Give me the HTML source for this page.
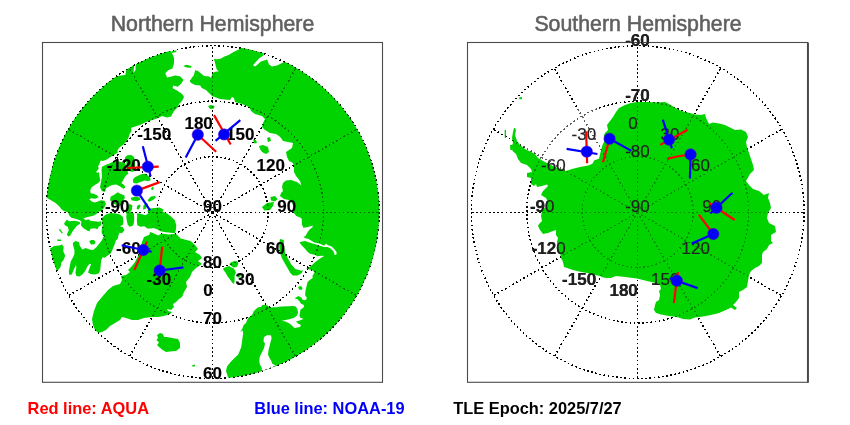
<!DOCTYPE html>
<html><head><meta charset="utf-8"><title>Polar maps</title>
<style>
html,body{margin:0;padding:0;background:#fff;}
body{width:850px;height:425px;overflow:hidden;position:relative;font-family:"Liberation Sans",sans-serif;}
svg{position:absolute;left:0;top:0;will-change:transform;opacity:0.999;}
.t{font-family:"Liberation Sans",sans-serif;}
</style></head><body>
<svg width="850" height="425" viewBox="0 0 850 425">
<defs>
<clipPath id="cn"><circle cx="212.7" cy="212.1" r="166.70000000000002"/></clipPath>
<clipPath id="cs"><circle cx="637.7" cy="212.1" r="166.70000000000002"/></clipPath>
<g id="gn" fill="none" stroke="#000" stroke-width="1.5" stroke-dasharray="1.7 2.5" shape-rendering="crispEdges"><circle cx="212.7" cy="212.1" r="55.47"/><circle cx="212.7" cy="212.1" r="110.93"/><circle cx="212.7" cy="212.1" r="166.40"/><path d="M212.5,212.5L212.50,378.90"/><path d="M212.5,212.5L295.70,356.61"/><path d="M212.5,212.5L356.61,295.70"/><path d="M212.5,212.5L378.90,212.50"/><path d="M212.5,212.5L356.61,129.30"/><path d="M212.5,212.5L295.70,68.39"/><path d="M212.5,212.5L212.50,46.10"/><path d="M212.5,212.5L129.30,68.39"/><path d="M212.5,212.5L68.39,129.30"/><path d="M212.5,212.5L46.10,212.50"/><path d="M212.5,212.5L68.39,295.70"/><path d="M212.5,212.5L129.30,356.61"/></g>
<g id="gs" fill="none" stroke="#000" stroke-width="1.5" stroke-dasharray="1.7 2.5" shape-rendering="crispEdges"><circle cx="637.7" cy="212.1" r="55.47"/><circle cx="637.7" cy="212.1" r="110.93"/><circle cx="637.7" cy="212.1" r="166.40"/><path d="M637.5,212.5L637.50,378.90"/><path d="M637.5,212.5L720.70,356.61"/><path d="M637.5,212.5L781.61,295.70"/><path d="M637.5,212.5L803.90,212.50"/><path d="M637.5,212.5L781.61,129.30"/><path d="M637.5,212.5L720.70,68.39"/><path d="M637.5,212.5L637.50,46.10"/><path d="M637.5,212.5L554.30,68.39"/><path d="M637.5,212.5L493.39,129.30"/><path d="M637.5,212.5L471.10,212.50"/><path d="M637.5,212.5L493.39,295.70"/><path d="M637.5,212.5L554.30,356.61"/></g>
</defs>
<rect x="0" y="0" width="850" height="425" fill="#fff"/>
<use href="#gn"/><use href="#gs"/>
<g class="t" font-size="17" font-weight="bold" fill="#151515" stroke="#151515" stroke-width="0.15"><text x="637.5" y="212.4" text-anchor="middle">-90</text><text x="637.5" y="156.9" text-anchor="middle">-80</text><text x="637.5" y="101.3" text-anchor="middle">-70</text><text x="637.5" y="45.8" text-anchor="middle">-60</text><text x="596.1" y="284.5" text-anchor="end">-150</text><text x="565.7" y="254.0" text-anchor="end">-120</text><text x="554.5" y="212.4" text-anchor="end">-90</text><text x="637.8" y="129.1" text-anchor="end">0</text><text x="679.4" y="140.3" text-anchor="end">30</text><text x="709.9" y="170.8" text-anchor="end">60</text><text x="721.1" y="212.4" text-anchor="end">90</text><text x="709.9" y="254.0" text-anchor="end">120</text><text x="679.4" y="284.5" text-anchor="end">150</text><text x="637.8" y="295.7" text-anchor="end">180</text></g>
<path d="M515,127L530,119L560,111L590,107L614,111L607,140L601,158L590,166L566,172L543,162L531,153L517,142Z" fill="#fff" opacity="0.55"/>
<g clip-path="url(#cn)" fill="#00d300" stroke="none"><path d="M171.0,40.0 170.6,51.5 171.2,51.8 172.9,55.0 174.1,57.9 173.9,63.8 172.4,68.5 168.2,70.3 165.3,73.2 167.1,77.4 170.6,76.8 175.3,75.6 180.0,76.2 183.5,79.7 181.2,83.8 177.6,86.8 173.5,85.6 172.4,87.9 176.5,90.3 181.2,93.2 182.9,95.0 184.0,97.0 182.0,101.0 179.0,104.0 178.0,107.0 174.0,111.0 171.0,116.4 167.0,117.6 162.0,116.0 157.0,118.4 151.0,120.4 146.0,122.0 140.0,125.0 133.6,127.1 131.0,128.1 131.6,131.1 129.5,134.2 128.5,137.7 126.0,141.8 124.0,144.3 120.4,146.8 118.4,148.8 117.4,150.4 117.9,152.4 115.4,153.9 111.3,156.4 106.8,159.5 102.7,161.0 100.7,160.6 99.7,163.2 98.2,166.2 98.7,168.7 96.2,171.8 97.5,173.0 98.8,172.0 99.8,178.0 100.3,180.6 98.3,183.1 95.2,184.7 91.7,187.2 90.2,190.2 90.7,193.3 93.7,193.8 96.8,195.3 98.8,197.3 95.2,198.8 91.2,198.3 89.2,199.3 91.7,201.4 94.7,202.4 97.8,201.4 101.3,200.3 104.4,200.8 106.0,204.0 104.0,208.0 101.2,211.1 97.6,212.1 96.6,214.1 92.6,216.1 87.5,217.1 83.5,218.2 85.5,220.2 88.5,219.2 90.5,220.7 94.6,221.2 98.6,221.7 101.2,221.2 101.2,225.2 98.6,226.8 97.6,229.3 94.6,228.3 90.5,228.8 89.5,231.3 87.5,230.8 83.5,228.3 80.9,225.2 81.4,221.7 79.9,220.2 75.4,218.7 71.3,217.7 68.8,215.1 68.3,212.6 64.0,211.0 61.7,209.6 59.2,206.3 55.2,202.8 50.1,199.7 46.6,197.7 30.0,197.0 20.0,197.0 20.0,90.0 100.0,80.0 112.0,72.0 114.1,77.4 118.8,75.8 125.3,75.0 126.5,69.0 127.0,62.0 133.8,60.0 134.2,65.0 133.5,73.0 135.5,70.0 135.8,62.0 150.0,40.0Z M184.0,65.5 187.0,64.8 191.6,66.2 191.0,67.8 187.0,67.5 184.5,66.8Z M171.5,51.3 176.5,50.2 176.3,52.0 172.0,53.0Z M240.7,44.0 240.7,47.8 238.7,49.6 233.6,52.1 228.6,55.1 224.5,56.6 220.5,58.7 216.4,59.2 213.9,58.7 214.9,62.2 215.9,66.8 216.9,69.8 218.9,71.3 215.4,71.8 212.9,72.8 212.2,74.4 211.0,78.0 209.4,76.4 204.3,75.9 201.3,73.8 197.7,70.8 195.2,70.3 193.7,75.4 192.1,77.4 189.6,80.9 191.1,83.0 195.2,85.0 200.2,85.5 201.8,88.0 206.0,90.0 212.0,96.0 220.0,99.0 230.0,100.0 232.0,97.0 234.0,98.0 235.0,102.0 242.0,104.0 249.0,107.0 251.0,111.0 255.0,114.0 262.0,116.0 265.0,119.0 263.0,123.0 262.0,127.0 265.0,130.0 270.0,133.0 276.0,134.0 279.0,136.0 281.0,138.0 283.0,141.0 288.0,142.0 293.0,143.0 292.0,148.0 289.0,150.0 286.0,152.0 287.0,157.0 289.0,161.0 293.0,163.0 294.0,167.0 294.0,172.0 296.0,176.0 300.0,181.0 301.4,185.4 297.0,182.0 291.0,180.0 286.0,180.6 283.0,183.0 282.0,187.0 283.0,191.0 281.0,193.0 280.0,196.0 284.0,199.0 289.0,200.0 291.0,202.0 294.0,206.0 294.0,212.0 293.2,212.0 296.2,216.0 300.2,217.6 301.8,219.1 301.8,224.1 303.3,227.7 306.8,227.2 310.4,226.2 312.9,225.7 312.4,227.2 309.9,229.2 307.8,231.7 306.8,233.8 305.3,236.3 303.3,236.8 305.3,238.3 308.3,238.8 311.4,240.8 314.4,242.4 319.5,243.4 322.5,244.9 324.5,245.4 326.0,243.4 327.6,244.9 331.6,246.4 334.7,249.4 336.7,252.5 336.2,255.0 334.7,255.0 333.6,251.5 330.6,248.4 327.6,246.9 324.5,246.9 320.5,245.9 316.4,244.4 312.4,243.4 309.4,242.4 305.3,241.1 302.3,241.6 299.5,242.3 301.4,245.1 304.5,248.2 307.5,251.7 310.0,253.7 314.6,254.7 317.6,256.3 321.7,255.7 324.2,255.9 319.7,258.8 315.6,261.8 312.6,264.4 309.5,266.9 306.0,268.4 309.5,269.4 312.6,270.4 314.6,272.4 312.6,275.5 312.6,278.0 309.7,280.0 307.6,282.0 306.6,286.0 305.6,290.1 305.1,295.2 306.6,297.2 306.6,299.2 304.6,300.2 302.6,299.7 301.6,297.7 298.5,296.0 294.5,298.2 297.5,299.2 299.5,301.3 301.0,303.8 303.6,304.8 304.1,306.8 302.6,308.3 300.5,309.4 300.0,312.4 299.5,315.4 300.0,317.4 303.6,319.0 299.5,320.5 296.0,321.5 298.0,323.5 301.0,325.0 300.0,327.0 294.4,328.0 292.0,325.5 289.5,323.5 285.4,321.5 281.8,320.7 285.4,320.0 290.4,319.0 294.5,317.4 297.0,315.4 298.0,312.4 297.5,309.4 296.0,306.8 293.5,306.1 288.4,306.3 281.3,306.5 276.8,307.3 273.7,307.3 269.2,307.8 268.2,305.8 265.0,304.8 262.0,305.3 261.0,307.1 258.0,307.3 255.0,309.9 254.0,311.0 252.0,315.0 248.0,318.0 246.0,323.0 243.7,325.0 242.2,329.0 240.2,332.0 242.7,330.5 243.2,333.0 242.2,340.2 241.2,347.3 238.2,354.4 235.1,357.4 231.0,361.4 227.0,366.5 226.0,371.0 228.0,377.0 231.0,381.0 231.0,395.0 400.0,395.0 400.0,20.0 286.0,20.0 285.6,60.0 283.0,62.4 277.0,65.6 272.0,66.4 269.0,64.4 267.2,59.6 261.0,61.6 255.2,66.4 253.0,65.2 259.0,58.4 263.6,55.2 264.0,50.0 241.0,38.0Z M208.0,106.0 211.0,105.0 214.5,106.0 214.0,108.5 210.0,109.0Z M259.0,146.0 263.0,145.0 268.0,147.0 269.0,152.0 266.0,154.0 262.0,152.0 260.0,149.0Z M253.0,139.4 256.0,140.0 257.0,143.0 254.4,143.4Z M267.0,138.0 270.0,137.0 271.0,141.0 268.0,142.0Z M270.4,197.0 275.0,196.0 277.6,199.0 275.0,201.4 271.0,200.6Z M262.0,207.0 267.0,203.0 274.0,202.0 273.0,206.0 270.0,210.0 264.4,210.6Z M280.2,239.0 283.7,240.1 284.2,247.1 285.2,253.2 287.8,258.3 291.3,264.4 295.4,268.9 300.4,270.4 303.0,270.4 301.4,273.5 297.4,275.5 292.8,275.5 290.3,273.0 287.8,268.4 284.7,263.3 281.7,257.8 279.7,252.2 279.2,245.1 279.7,240.1Z M298.0,287.0 301.0,286.0 302.6,288.0 301.5,290.0 299.0,289.5Z M229.3,264.1 231.2,262.2 234.5,261.1 237.8,261.5 238.2,264.1 236.8,266.9 233.5,267.4 231.2,266.0Z M223.2,268.3 226.0,266.9 229.3,266.0 231.2,267.4 233.5,268.3 234.9,270.2 235.9,272.6 234.6,275.4 234.6,281.0 234.0,283.9 232.1,282.5 229.8,279.2 227.4,275.9 225.1,272.1 223.6,270.2Z M236.8,274.9 239.2,274.0 241.0,274.9 240.1,277.3 237.8,277.8Z M157.0,335.0 160.0,333.0 163.0,334.0 164.0,337.0 167.0,337.0 172.0,338.0 178.0,339.0 180.0,343.0 180.0,348.0 176.0,351.0 170.0,351.4 166.0,352.0 162.0,349.4 159.0,347.0 157.0,345.0 159.0,342.6 156.4,340.0 158.0,338.0Z M192.0,365.5 195.0,364.6 195.0,366.2 192.5,366.8Z M102.0,297.0 108.0,290.0 113.0,286.0 120.0,284.0 122.0,280.0 121.0,276.0 126.0,275.0 130.0,272.0 128.0,270.0 132.0,266.0 135.0,262.0 138.0,256.0 140.0,250.0 142.0,242.0 144.0,237.0 149.0,235.0 150.5,232.0 153.5,233.2 158.2,235.6 161.8,233.4 168.8,234.4 175.9,233.8 180.6,238.5 187.6,240.3 191.0,241.3 195.0,245.0 198.0,249.0 195.0,252.0 200.0,255.0 202.0,258.0 198.0,261.0 202.0,264.0 196.0,268.0 192.0,272.0 190.0,277.0 186.0,282.0 187.0,287.0 184.0,292.0 182.0,297.0 179.0,299.0 176.0,302.0 173.0,304.0 174.0,307.0 171.0,310.0 167.0,309.0 168.0,311.0 172.0,312.0 170.0,314.0 164.0,316.0 158.0,317.0 151.0,317.0 144.0,318.0 138.0,320.0 132.0,320.0 126.0,318.0 122.0,317.0 120.0,320.0 115.0,323.0 110.0,326.0 106.0,330.0 102.0,332.0 98.0,333.0 95.0,330.0 93.0,325.0 92.0,319.0 94.0,311.0 97.0,303.0Z M136.8,213.2 140.4,213.7 145.4,215.2 148.5,213.2 147.4,210.1 150.5,208.6 154.5,208.1 159.6,207.6 163.6,209.6 162.6,211.7 166.7,213.2 170.7,216.2 174.8,220.3 176.3,225.3 175.8,230.4 174.8,233.2 170.7,232.7 165.7,232.2 160.6,231.2 157.6,229.4 153.5,227.9 150.5,228.4 147.4,228.4 144.4,226.3 140.4,226.8 137.3,225.3 136.8,220.3 137.3,216.2Z M127.2,213.2 130.2,212.2 133.8,213.2 134.3,218.2 133.8,223.3 132.8,225.8 129.7,226.8 127.7,224.8 126.7,220.3 126.2,216.2Z M102.0,166.7 106.0,164.7 110.1,163.2 113.2,161.6 117.2,161.1 125.3,163.2 127.3,170.2 128.3,173.8 125.3,176.3 124.3,178.0 122.8,181.0 121.3,183.0 124.3,185.0 125.3,187.7 123.3,188.7 120.2,186.6 116.2,184.6 112.1,185.1 109.1,186.6 106.1,188.2 105.1,191.7 102.0,191.2 100.0,187.0 101.0,182.0 102.0,176.0 101.5,170.0Z M124.8,157.6 127.3,155.3 131.4,155.0 134.0,157.0 135.0,162.0 135.0,169.0 133.0,172.0 129.0,171.0 127.0,167.0 126.3,162.0Z M132.9,179.4 134.9,177.3 139.0,175.3 141.5,174.3 144.5,173.8 147.6,175.3 150.1,177.8 150.6,180.4 147.6,180.9 144.5,180.4 140.5,181.9 136.4,183.4 133.4,182.9Z M151.0,188.5 153.2,186.3 153.8,188.5 152.0,190.5Z M130.9,197.8 134.4,196.8 139.5,197.3 140.5,199.8 136.4,201.3 131.4,200.3Z M147.6,200.3 150.6,196.8 155.2,195.7 155.7,197.8 152.6,200.3 149.1,201.8Z M110.6,196.8 114.2,194.7 117.7,192.2 120.2,193.7 124.3,195.2 124.8,198.3 122.8,200.8 124.3,203.8 120.0,206.0 114.0,204.0 110.1,200.3Z M129.4,203.8 132.4,205.4 131.9,209.4 129.4,213.5 126.8,215.5 125.8,211.4 127.3,207.4Z M137.4,205.4 140.0,204.4 140.5,206.4 138.5,209.4 136.6,208.9Z M143.5,205.4 146.6,202.8 148.1,204.4 145.5,208.9 143.0,209.4Z M101.7,218.2 105.7,214.6 110.8,213.1 115.9,213.6 119.9,214.6 122.9,217.1 123.4,221.2 122.9,224.7 119.9,226.3 122.9,227.3 124.5,230.3 121.9,233.3 119.4,232.8 118.4,235.4 117.9,238.4 115.9,240.4 114.8,244.0 112.8,249.1 110.8,253.2 106.7,256.2 104.7,257.7 102.7,257.2 101.2,260.2 100.7,265.3 100.2,270.4 98.6,273.4 94.6,274.4 90.5,273.9 88.0,272.4 89.5,268.3 91.1,264.3 89.5,263.8 87.5,266.3 85.5,270.4 82.4,274.4 79.4,276.4 76.4,275.9 75.4,272.4 76.4,267.3 75.9,265.3 73.8,269.4 71.8,274.4 69.3,274.9 68.8,271.4 69.8,266.3 70.8,261.3 72.8,257.7 74.4,254.2 74.4,250.1 73.3,246.1 72.8,243.0 75.4,241.0 78.9,242.0 79.9,246.1 82.4,249.6 85.5,248.1 89.5,249.6 93.1,250.1 96.6,247.1 98.6,244.5 101.7,240.4 103.7,236.4 101.7,233.3 101.7,229.3 102.7,225.2 102.2,221.2Z M89.2,241.5 91.0,240.0 94.0,240.0 95.6,242.0 94.5,244.3 91.0,244.6Z M64.2,223.2 66.8,219.7 69.3,221.2 74.4,220.7 79.4,221.7 80.4,223.7 77.4,225.2 74.9,228.3 72.3,231.8 70.3,235.4 68.3,236.4 66.8,234.4 68.8,230.3 67.8,226.8 64.7,225.2Z M58.7,229.5 60.0,229.0 62.9,233.0 61.8,233.6Z M57.1,239.6 61.2,239.4 61.2,240.9 57.5,241.0Z M50.1,248.6 54.1,246.1 59.2,245.6 62.2,244.6 63.7,247.1 63.2,251.1 65.2,255.7 63.7,259.7 61.2,262.8 60.7,266.8 58.2,269.9 56.1,270.4 48.0,272.0 40.0,250.0Z"/><path fill="#fff" d="M264.0,337.1 267.5,335.1 271.1,335.6 271.6,338.2 270.5,342.2 269.5,346.3 268.5,350.3 268.0,354.4 269.5,357.9 271.1,360.4 272.1,363.5 274.6,365.0 275.6,365.7 279.0,373.0 261.0,376.0 261.9,368.0 259.9,364.5 259.2,360.4 259.9,356.4 261.9,352.3 264.0,348.3 265.0,343.7 263.5,341.2Z"/></g>
<g clip-path="url(#cs)" fill="#00d300" stroke="none"><path d="M514.0,128.0 515.0,128.0 516.0,130.0 515.0,135.0 517.0,141.0 520.0,145.0 525.0,149.0 531.0,152.0 535.0,154.0 538.0,158.0 543.0,161.0 554.0,166.5 566.0,171.0 572.0,169.0 580.0,167.0 588.3,165.4 592.4,163.8 594.4,160.3 599.0,158.8 600.5,152.2 602.5,145.0 604.5,141.0 604.0,135.0 605.0,133.0 608.0,130.0 607.0,125.0 610.0,121.0 613.0,117.0 616.0,112.0 619.0,108.0 625.0,105.0 631.0,103.0 637.0,102.0 647.0,102.0 657.0,102.6 665.0,102.0 669.0,104.0 674.0,107.0 679.0,110.0 685.0,112.0 690.0,113.0 695.0,114.6 701.0,115.0 705.0,114.0 706.0,118.0 708.0,122.0 709.0,124.0 713.0,122.6 719.0,123.4 725.0,125.0 731.0,128.0 735.0,130.0 741.0,129.4 746.0,132.0 748.0,137.0 746.0,142.0 747.0,147.0 749.0,153.0 751.0,159.0 753.0,165.0 754.0,170.0 750.0,174.0 746.0,181.0 749.0,185.0 753.0,189.0 759.0,191.0 764.0,195.0 769.0,193.0 768.0,198.0 770.0,203.0 771.0,208.0 768.0,213.0 767.0,218.0 769.0,223.0 775.0,226.0 776.0,232.0 771.0,235.0 771.0,241.0 773.0,243.0 769.0,245.0 767.0,249.0 763.0,252.0 762.0,255.0 762.0,263.0 759.0,266.0 755.0,268.0 751.0,271.0 749.0,275.0 748.0,281.0 747.0,287.0 743.0,290.0 739.0,292.0 739.0,298.0 736.0,302.0 733.0,305.0 737.0,308.0 735.0,310.0 731.0,307.4 726.0,310.0 719.0,313.0 711.0,315.0 703.0,316.6 695.0,317.4 690.0,319.4 683.0,319.0 677.0,317.0 669.0,316.0 661.0,314.6 656.0,313.0 654.0,310.0 655.0,305.0 656.0,302.0 659.0,300.0 660.0,295.0 659.0,291.0 661.0,289.0 660.0,285.0 657.0,283.0 651.0,282.0 643.0,280.0 637.0,278.5 633.0,278.0 625.0,277.0 616.0,276.0 611.0,278.0 607.0,278.0 603.0,277.4 600.0,276.0 595.0,275.0 587.0,273.0 579.0,271.4 573.0,270.0 567.0,268.0 564.0,267.0 563.0,262.0 561.0,258.0 560.0,253.0 558.0,248.0 557.0,242.0 558.0,238.0 556.0,235.0 556.0,230.0 553.0,231.0 548.0,233.0 543.0,234.0 540.0,230.0 538.0,226.0 539.0,224.0 542.0,221.0 541.0,216.0 542.0,210.0 546.0,207.0 548.0,202.0 546.0,198.0 541.0,195.0 543.0,191.0 548.0,186.0 547.0,184.4 542.0,186.0 537.0,187.0 536.0,184.0 534.0,186.0 531.0,184.0 531.0,178.0 527.0,177.0 527.0,173.0 532.0,172.0 531.0,169.0 527.0,165.0 521.0,163.0 518.0,159.0 516.0,154.0 512.6,151.0 511.4,147.0 513.0,143.0 512.0,138.0 513.0,132.0Z M519.0,97.5 522.0,97.0 522.0,99.0 519.5,99.5Z M504.6,130.0 506.0,130.0 506.0,138.0 504.8,138.0Z M510.0,145.0 512.0,145.0 512.0,150.0 510.4,150.0Z"/></g>
<use href="#gn" opacity="0.45"/><use href="#gs" opacity="0.33"/>
<g fill="none" stroke="#4a4a4a" stroke-width="1.1">
<rect x="42.5" y="42.5" width="340" height="339.8"/>
<rect x="467.5" y="42.5" width="340" height="339.8"/>
<path d="M808.4,42.5V382.8"/>
</g>
<g class="t" font-size="17" font-weight="bold" fill="#000" stroke="#000" stroke-width="0.15"><text x="212.5" y="212.4" text-anchor="middle">90</text><text x="212.5" y="267.9" text-anchor="middle">80</text><text x="212.5" y="323.5" text-anchor="middle">70</text><text x="212.5" y="379.0" text-anchor="middle">60</text><text x="171.2" y="140.3" text-anchor="end">-150</text><text x="140.7" y="170.8" text-anchor="end">-120</text><text x="129.5" y="212.4" text-anchor="end">-90</text><text x="140.7" y="254.1" text-anchor="end">-60</text><text x="171.2" y="284.5" text-anchor="end">-30</text><text x="212.8" y="295.7" text-anchor="end">0</text><text x="254.4" y="284.5" text-anchor="end">30</text><text x="284.9" y="254.1" text-anchor="end">60</text><text x="296.1" y="212.4" text-anchor="end">90</text><text x="284.9" y="170.8" text-anchor="end">120</text><text x="254.4" y="140.3" text-anchor="end">150</text><text x="212.8" y="129.1" text-anchor="end">180</text></g>
<g class="t" font-size="17" fill="#222" stroke="#222" stroke-width="0.2"><text x="637.5" y="212.4" text-anchor="middle">-90</text><text x="637.5" y="156.9" text-anchor="middle">-80</text><text x="637.5" y="101.3" text-anchor="middle">-70</text><text x="637.5" y="45.8" text-anchor="middle">-60</text><text x="596.1" y="284.5" text-anchor="end">-150</text><text x="565.7" y="254.0" text-anchor="end">-120</text><text x="554.5" y="212.4" text-anchor="end">-90</text><text x="565.7" y="170.8" text-anchor="end">-60</text><text x="596.1" y="140.3" text-anchor="end">-30</text><text x="637.8" y="129.1" text-anchor="end">0</text><text x="679.4" y="140.3" text-anchor="end">30</text><text x="709.9" y="170.8" text-anchor="end">60</text><text x="721.1" y="212.4" text-anchor="end">90</text><text x="709.9" y="254.0" text-anchor="end">120</text><text x="679.4" y="284.5" text-anchor="end">150</text><text x="637.8" y="295.7" text-anchor="end">180</text></g>
<g fill="none" stroke-width="2.2" stroke-linecap="butt"><path stroke="#f00" d="M197.8,134.7L216.1,151.8"/><path stroke="#0000fa" d="M197.8,134.7L185.7,157.4"/><path stroke="#f00" d="M214,115.1L230.7,144.5"/><path stroke="#0000fa" d="M240.3,120.2L215.5,140.9"/><path stroke="#f00" d="M126.8,168L158.7,166.7"/><path stroke="#0000fa" d="M142.8,146.2L150.6,176.3"/><path stroke="#f00" d="M136.9,190.6L159.7,182.1"/><path stroke="#0000fa" d="M136.9,190.6L150.1,210.4"/><path stroke="#f00" d="M147,241.6L134.4,270"/><path stroke="#0000fa" d="M121.7,245.2L151.6,251.7"/><path stroke="#f00" d="M159.7,270.5L162.2,246.7"/><path stroke="#0000fa" d="M159.7,270.5L183.4,267.4"/><path stroke="#f00" d="M586.1,131.2L587.1,163.3"/><path stroke="#0000fa" d="M566.6,148.9L597.4,154"/><path stroke="#f00" d="M609.6,138.8L603,162.3"/><path stroke="#0000fa" d="M609.6,138.8L631.4,150.9"/><path stroke="#f00" d="M660.2,144.9L687.6,129.7"/><path stroke="#0000fa" d="M662.8,119.6L671.9,148.4"/><path stroke="#f00" d="M690.6,154.5L677,156.5L667.1,159"/><path stroke="#0000fa" d="M690.6,154.5L689.9,178.5"/><path stroke="#f00" d="M708.9,202.8L734.7,220"/><path stroke="#0000fa" d="M710.4,213.4L732.5,192.7"/><path stroke="#f00" d="M713.3,234L698.8,214.6"/><path stroke="#0000fa" d="M713.3,234L691.7,243.6"/><path stroke="#f00" d="M678,272.1L675.5,290L673.9,303"/><path stroke="#0000fa" d="M669.4,278.2L697.7,288.1"/></g><g fill="#0000fa" stroke="#5a00c8" stroke-width="0.5"><circle cx="197.8" cy="134.7" r="5.7"/><circle cx="224.1" cy="134.4" r="5.7"/><circle cx="147.8" cy="166.7" r="5.7"/><circle cx="136.9" cy="190.6" r="5.7"/><circle cx="143.3" cy="250" r="5.7"/><circle cx="159.7" cy="270.5" r="5.7"/><circle cx="586.8" cy="151.6" r="5.7"/><circle cx="609.6" cy="138.8" r="5.7"/><circle cx="669.1" cy="139.6" r="5.7"/><circle cx="690.6" cy="154.5" r="5.7"/><circle cx="716.5" cy="207.8" r="5.7"/><circle cx="713.3" cy="234" r="5.7"/><circle cx="676.9" cy="280.7" r="5.7"/></g>
<g class="t" font-size="21.3" fill="#606060" stroke="#606060" stroke-width="0.55" text-anchor="middle">
<text x="212.5" y="30.6">Northern Hemisphere</text>
<text x="638" y="30.6">Southern Hemisphere</text>
</g>
<g class="t" font-size="16.4" font-weight="bold" stroke="none">
<text x="27.6" y="413.6" fill="#f00">Red line: AQUA</text>
<text x="254.3" y="413.6" fill="#0000fa">Blue line: NOAA-19</text>
<text x="453.2" y="413.6" fill="#000">TLE Epoch: 2025/7/27</text>
</g>
</svg>
</body></html>
